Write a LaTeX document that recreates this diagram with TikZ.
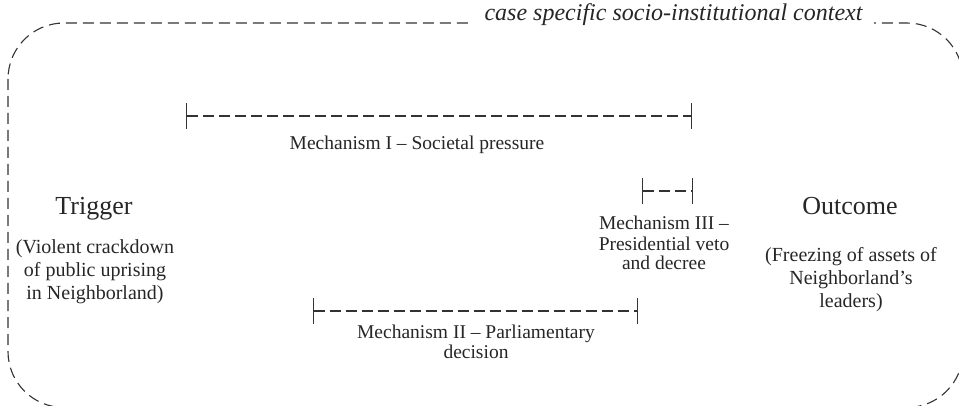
\documentclass[tikz,border=0pt]{standalone}
\usepackage{fontspec}
\setmainfont{Liberation Serif}
\usetikzlibrary{arrows.meta}

\begin{document}
\begin{tikzpicture}[x=1pt,y=-1pt,
    every node/.style={text=black!85,inner sep=0pt},
    mechbar/.style={{Bar[width=26pt]}-{Bar[width=26pt]},black!80,line width=1.1pt,dash pattern=on 11pt off 5pt},
    mechtext/.style={anchor=base,align=center,font=\fontsize{19.5}{20}\selectfont},
    endtitle/.style={anchor=base,font=\fontsize{26}{30}\selectfont},
    endtext/.style={anchor=base,align=center,font=\fontsize{20}{23.5}\selectfont}]
    \useasboundingbox (0,0) rectangle (959,406);
    % context frame
    \draw [black!80,line width=1.1pt,dash pattern=on 11pt off 6pt,rounded corners=56pt] (8,23) rectangle (963,407.5);
    \node [anchor=base,fill=white,inner xsep=12pt,inner ysep=3pt,font=\itshape\fontsize{24}{28}\selectfont] (context) at (673.5,21) {case specific socio-institutional context};
    % trigger and outcome (multi-line nodes sit on their last line)
    \node [endtitle] (trigger) at (94,215) {Trigger};
    \node [endtext] (triggertext) at (95,300) {(Violent crackdown\\of public uprising\\in Neighborland)};
    \node [endtitle] (outcome) at (850,215) {Outcome};
    \node [endtext] (outcometext) at (851,308) {(Freezing of assets of\\Neighborland’s\\leaders)};
    % mechanisms
    \coordinate (M1a) at (186,116);
    \coordinate (M1b) at (692,116);
    \draw [mechbar] (M1a) -- (M1b);
    \node [mechtext] (mechI) at (417,150) {Mechanism I – Societal pressure};
    \coordinate (M3a) at (642,191);
    \coordinate (M3b) at (693,191);
    \draw [mechbar] (M3a) -- (M3b);
    \node [mechtext] (mechIII) at (664,270) {Mechanism III –\\Presidential veto\\and decree};
    \coordinate (M2a) at (313,311);
    \coordinate (M2b) at (638,311);
    \draw [mechbar] (M2a) -- (M2b);
    \node [mechtext] (mechII) at (476,358) {Mechanism II – Parliamentary\\decision};
\end{tikzpicture}
\end{document}
